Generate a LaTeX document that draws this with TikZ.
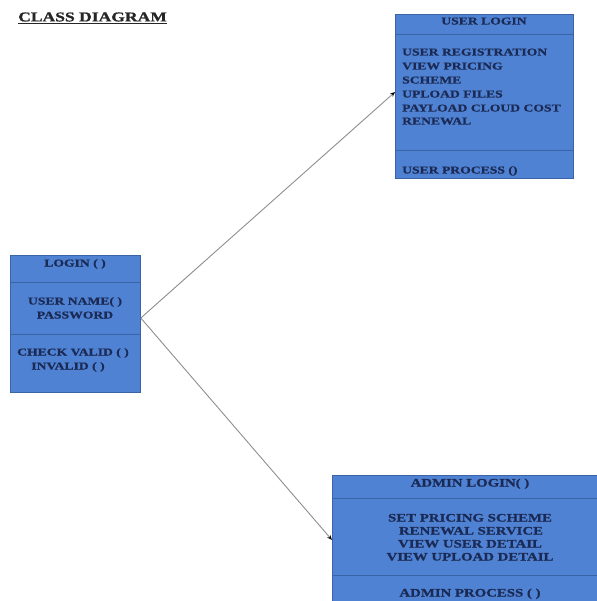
\documentclass[tikz,border=0pt]{standalone}
\usepackage{fontspec}
\setmainfont[FakeStretch=1.3, BoldFeatures={FakeBold=0.8}]{Liberation Serif}
\newfontfamily\titlefont[FakeStretch=1.3, BoldFeatures={FakeBold=1}]{Liberation Serif}
\usetikzlibrary{arrows.meta}
\definecolor{boxfill}{HTML}{4F82D2}
\definecolor{boxline}{HTML}{3A64A6}
\definecolor{boxtext}{HTML}{1B2A55}
\definecolor{arrline}{HTML}{8E8E8E}
\begin{document}
\begin{tikzpicture}[x=1pt,y=-1pt,
  classbox/.style={draw=boxline, fill=boxfill, line width=0.8pt, inner sep=0pt, anchor=north west},
  divider/.style={draw=boxline, line width=0.8pt},
  txt/.style={inner sep=0pt, text=boxtext, font=\bfseries\fontsize{10.5}{13}\selectfont, text height=7pt, text depth=0pt},
  bigtxt/.style={txt, font=\bfseries\fontsize{11.4}{13}\selectfont},
  arr/.style={draw=arrline, line width=0.9pt, -{Stealth[length=5pt,width=4pt,black]}}]
\useasboundingbox (0,0) rectangle (596,601);
% title
\node[inner sep=0pt, anchor=west, font=\titlefont\bfseries\fontsize{13.5}{15}\selectfont, text=black!85] (title) at (18,18) {\underline{CLASS DIAGRAM}};
% user login box
\node[classbox, minimum width=178pt, minimum height=164pt] (user) at (395,14) {};
\draw[divider] (395,34) -- (573,34);
\draw[divider] (395,150) -- (573,150);
\node[txt] (uh) at (484,21) {USER LOGIN};
\node[txt, anchor=west] (u1) at (402,52) {USER REGISTRATION};
\node[txt, anchor=west] (u2) at (402,66) {VIEW PRICING};
\node[txt, anchor=west] (u3) at (402,80) {SCHEME};
\node[txt, anchor=west] (u4) at (402,94) {UPLOAD FILES};
\node[txt, anchor=west] (u5) at (402,108) {PAYLOAD CLOUD COST};
\node[txt, anchor=west] (u6) at (402,121) {RENEWAL};
\node[txt, anchor=west] (u7) at (402,170) {USER PROCESS ()};
% login box
\node[classbox, minimum width=130pt, minimum height=137pt] (login) at (10,255) {};
\draw[divider] (10,282) -- (140,282);
\draw[divider] (10,334) -- (140,334);
\node[txt] (lh) at (75,263) {LOGIN ( )};
\node[txt] (l1) at (75,301) {USER NAME( )};
\node[txt] (l2) at (75,315) {PASSWORD};
\node[txt] (l3) at (73,352) {CHECK VALID ( )};
\node[txt] (l4) at (68,366) {INVALID ( )};
% admin login box
\node[classbox, minimum width=280pt, minimum height=140pt] (admin) at (332,475) {};
\draw[divider] (332,498) -- (612,498);
\draw[divider] (332,575) -- (612,575);
\node[bigtxt] (ah) at (470,483) {ADMIN LOGIN( )};
\node[bigtxt] (a1) at (470,518) {SET PRICING SCHEME};
\node[bigtxt] (a2) at (471,531) {RENEWAL SERVICE};
\node[bigtxt] (a3) at (470,544) {VIEW USER DETAIL};
\node[bigtxt] (a4) at (470,557) {VIEW UPLOAD DETAIL};
\node[bigtxt] (a5) at (470,593) {ADMIN PROCESS ( )};
% connectors
\coordinate (lp) at (login.east |- 0,318);
\draw[arr] (lp) -- (user.west |- 0,92);
\draw[arr] (lp) -- (admin.west |- 0,540);
\end{tikzpicture}
\end{document}
